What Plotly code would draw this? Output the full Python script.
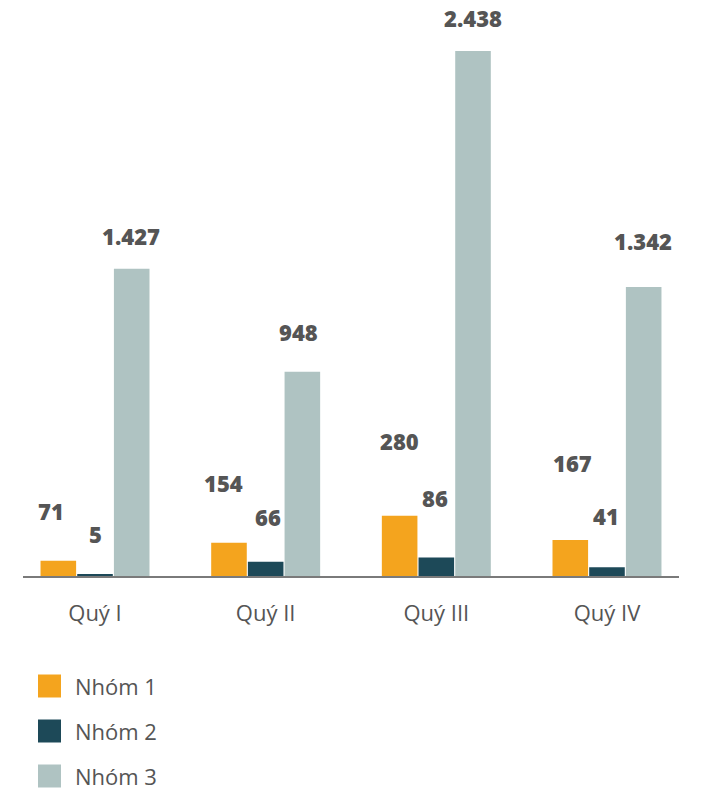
import plotly.graph_objects as go

# Quarterly counts per group
quarters = ["Quý I", "Quý II", "Quý III", "Quý IV"]
group_names = ["Nhóm 1", "Nhóm 2", "Nhóm 3"]
nhom1 = [71, 154, 280, 167]
nhom2 = [5, 66, 86, 41]
nhom3 = [1427, 948, 2438, 1342]
series = [nhom1, nhom2, nhom3]

colors = ["#F4A41E", "#1D4958", "#AFC3C2"]
text_color = "#555555"

# Hand-tuned label placement (pixels above bar top, horizontal nudge)
label_lift = [[50, 60, 75, 77], [41, 45, 59, 51], [33, 40, 33, 46]]
label_nudge = [[-7, -5, 0, 2], [0, 2, -1, -1], [-1, -4, 0, -1]]

W, H = 708, 790
ML, MR, MT, MB = 23, 29, 0, 214
BARGAP, GROUPGAP = 0.355, 0.03

fig = go.Figure()
xpos = list(range(len(quarters)))
for name, vals, col in zip(group_names, series, colors):
    fig.add_trace(go.Bar(x=xpos, y=vals, name=name, marker=dict(color=col, line=dict(width=0)),
                         showlegend=False, hoverinfo="skip"))

def fmt(v):
    return f"{v:,}".replace(",", ".")

n = len(series)
bar_w = (1 - BARGAP) / n
annotations = []
for i, vals in enumerate(series):
    for j, v in enumerate(vals):
        annotations.append(dict(
            x=j + (i - (n - 1) / 2) * bar_w, y=v, xref="x", yref="y",
            text=fmt(v), showarrow=False, yanchor="middle", xanchor="center",
            yshift=label_lift[i][j], xshift=label_nudge[i][j],
            font=dict(family="Open Sans", size=22, color=text_color, weight=800),
        ))

# Legend drawn as stacked swatches below the chart
plot_w = W - ML - MR
plot_h = H - MT - MB

def px_x(p):
    return (p - ML) / plot_w

def px_y(p):
    return (H - MB - p) / plot_h

shapes = []
for k, (name, col) in enumerate(zip(group_names, colors)):
    cy = 686 + 45 * k
    shapes.append(dict(type="rect", xref="paper", yref="paper",
                       x0=px_x(38), x1=px_x(61), y0=px_y(cy + 11.5), y1=px_y(cy - 11.5),
                       fillcolor=col, line=dict(width=0)))
    annotations.append(dict(x=px_x(73), y=px_y(cy), xref="paper", yref="paper",
                            text=name, showarrow=False, xanchor="left", yanchor="middle",
                            font=dict(family="Open Sans", size=22, color=text_color)))

fig.update_layout(
    width=W, height=H,
    margin=dict(l=ML, r=MR, t=MT, b=MB),
    paper_bgcolor="white", plot_bgcolor="white",
    barmode="group", bargap=BARGAP, bargroupgap=GROUPGAP,
    annotations=annotations, shapes=shapes,
    xaxis=dict(tickmode="array", tickvals=xpos, ticktext=quarters, range=[-0.422, 3.422],
               showgrid=False, zeroline=False, showline=True, linecolor="#7A7A7A", linewidth=2,
               ticks="", ticklabelstandoff=17,
               tickfont=dict(family="Open Sans", size=22, color=text_color)),
    yaxis=dict(range=[0, 2675], visible=False, showgrid=False, zeroline=False),
)

fig.write_html("out.html")
